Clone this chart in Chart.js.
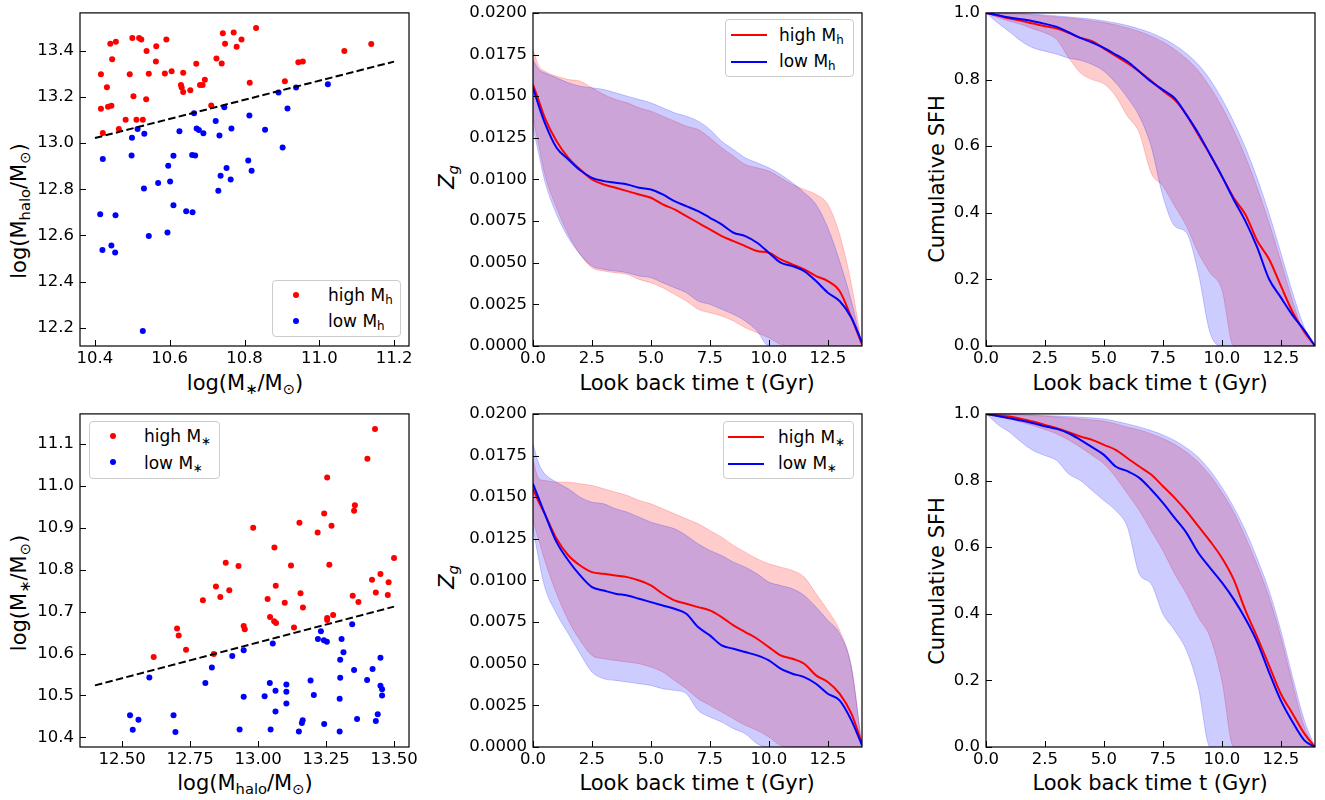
<!DOCTYPE html>
<html>
<head>
<meta charset="utf-8">
<script src="https://cdn.jsdelivr.net/npm/chart.js@4.4.1/dist/chart.umd.min.js"></script>
<style>
  html, body { margin: 0; padding: 0; background: #fff; }
  #fig { position: relative; width: 1325px; height: 800px; overflow: hidden; background: #fff;
         font-family: "DejaVu Sans", sans-serif; color: #000; }
  canvas { position: absolute; }
  .xt, .yt { position: absolute; white-space: nowrap; font-size: 21px; line-height: 24px; }
  .xt { transform: translateX(-50%); }
  .yt { transform: translate(-50%, -50%) rotate(-90deg); }
  sub { font-size: 0.7em; vertical-align: -0.25em; line-height: 0; }
  .leg { position: absolute; border: 1px solid #cccccc; border-radius: 4px;
         background: rgba(255,255,255,0.8); box-sizing: border-box; }
  .leg .txt { position: absolute; font-size: 17px; line-height: 20px; white-space: nowrap; }
  .leg .dot { position: absolute; width: 6px; height: 6px; border-radius: 50%; }
  .leg .ln { position: absolute; height: 2px; width: 36px; }
</style>
</head>
<body>
<div id="fig">
  <div class="xt" style="left:245px;top:371px">log(M<sub>∗</sub>/M<sub>⊙</sub>)</div>
  <div class="xt" style="left:697px;top:371px">Look back time t (Gyr)</div>
  <div class="xt" style="left:1150px;top:371px">Look back time t (Gyr)</div>
  <div class="xt" style="left:245px;top:771px">log(M<sub>halo</sub>/M<sub>⊙</sub>)</div>
  <div class="xt" style="left:697px;top:771px">Look back time t (Gyr)</div>
  <div class="xt" style="left:1150px;top:771px">Look back time t (Gyr)</div>

  <div class="yt" style="left:19px;top:211px">log(M<sub>halo</sub>/M<sub>⊙</sub>)</div>
  <div class="yt" style="left:19px;top:593px">log(M<sub>∗</sub>/M<sub>⊙</sub>)</div>
  <div class="yt" style="left:447px;top:177px"><i>Z<sub>g</sub></i></div>
  <div class="yt" style="left:447px;top:577px"><i>Z<sub>g</sub></i></div>
  <div class="yt" style="left:937px;top:179px">Cumulative SFH</div>
  <div class="yt" style="left:937px;top:581px">Cumulative SFH</div>

  <div class="leg" style="left:272px;top:280px;width:129px;height:57px">
    <div class="dot" style="left:20px;top:11px;background:#ff0000"></div>
    <div class="txt" style="left:55px;top:4px">high M<sub>h</sub></div>
    <div class="dot" style="left:20px;top:37px;background:#0000ff"></div>
    <div class="txt" style="left:55px;top:30px">low M<sub>h</sub></div>
  </div>
  <div class="leg" style="left:725px;top:19px;width:129px;height:58px">
    <div class="ln" style="left:5px;top:14px;background:#ff0000"></div>
    <div class="txt" style="left:53px;top:5px">high M<sub>h</sub></div>
    <div class="ln" style="left:5px;top:41px;background:#0000ff"></div>
    <div class="txt" style="left:53px;top:31px">low M<sub>h</sub></div>
  </div>
  <div class="leg" style="left:89px;top:421px;width:131px;height:58px">
    <div class="dot" style="left:20px;top:11px;background:#ff0000"></div>
    <div class="txt" style="left:54px;top:4px">high M<sub>∗</sub></div>
    <div class="dot" style="left:20px;top:37px;background:#0000ff"></div>
    <div class="txt" style="left:54px;top:31px">low M<sub>∗</sub></div>
  </div>
  <div class="leg" style="left:723px;top:421px;width:131px;height:58px">
    <div class="ln" style="left:4px;top:14px;background:#ff0000"></div>
    <div class="txt" style="left:54px;top:5px">high M<sub>∗</sub></div>
    <div class="ln" style="left:4px;top:41px;background:#0000ff"></div>
    <div class="txt" style="left:54px;top:31px">low M<sub>∗</sub></div>
  </div>
</div>
<script>
// top-left: halo mass vs stellar mass
const tlHighX = [10.416,10.421,10.416,10.432,10.435,10.444,10.441,10.446,10.456,10.464,10.482,10.493,10.500,10.503,10.511,10.518,10.524,10.528,10.538,10.537,10.544,10.563,10.564,10.587,10.591,10.605,10.630,10.632,10.636,10.636,10.655,10.671,10.681,10.688,10.694,10.711,10.725,10.739,10.742,10.748,10.771,10.779,10.792,10.814,10.831,10.908,10.944,10.956,11.067,11.139];
const tlHighY = [13.298,13.044,13.149,13.242,13.157,13.162,13.430,13.363,13.439,13.061,13.101,13.298,13.455,13.203,13.101,13.455,13.449,13.101,13.399,13.190,13.300,13.353,13.420,13.301,13.449,13.311,13.252,13.241,13.221,13.305,13.229,13.344,13.252,13.252,13.274,13.163,13.367,13.345,13.476,13.430,13.479,13.417,13.449,13.261,13.499,13.268,13.350,13.353,13.399,13.429];
const tlLowX = [10.421,10.414,10.420,10.444,10.454,10.455,10.499,10.498,10.514,10.532,10.531,10.544,10.569,10.594,10.596,10.601,10.610,10.610,10.528,10.626,10.644,10.660,10.661,10.668,10.665,10.672,10.678,10.690,10.723,10.730,10.733,10.736,10.746,10.752,10.763,10.765,10.810,10.813,10.819,10.855,10.891,10.902,10.915,10.938,11.023];
const tlLowY = [12.931,12.692,12.537,12.556,12.526,12.687,13.023,12.946,13.061,13.040,12.803,12.598,12.827,12.613,12.902,12.834,12.945,12.731,12.186,13.051,12.705,12.948,12.700,12.946,13.129,13.063,13.057,13.043,13.096,12.794,13.033,12.859,13.155,12.892,12.842,13.063,12.925,13.120,12.880,13.058,13.219,12.981,13.150,13.241,13.255];
const tlLineX = [10.4, 11.2];
const tlLineY = [13.022, 13.353];

// bottom-left: stellar mass vs halo mass
const blHighX = [12.616,12.702,12.708,12.735,12.797,12.837,12.845,12.861,12.881,12.894,12.928,12.947,12.951,12.982,13.035,13.044,13.059,13.060,13.065,13.066,13.098,13.121,13.132,13.152,13.156,13.165,13.219,13.243,13.254,13.254,13.254,13.262,13.270,13.276,13.348,13.353,13.356,13.369,13.402,13.419,13.430,13.433,13.450,13.477,13.480,13.500];
const blHighY = [10.592,10.660,10.643,10.609,10.727,10.599,10.760,10.735,10.817,10.751,10.809,10.666,10.658,10.900,10.730,10.687,10.677,10.853,10.762,10.673,10.721,10.810,10.662,10.912,10.744,10.710,10.889,10.934,11.020,10.685,10.680,10.812,10.905,10.692,10.738,10.941,10.954,10.723,11.065,10.776,11.136,10.746,10.790,10.740,10.770,10.828];
const blLowX = [12.529,12.539,12.560,12.600,12.689,12.696,12.806,12.830,12.905,12.932,12.947,12.947,13.024,13.043,13.046,13.054,13.064,13.064,13.104,13.104,13.104,13.150,13.161,13.164,13.193,13.205,13.220,13.231,13.242,13.243,13.253,13.300,13.302,13.302,13.307,13.314,13.346,13.353,13.364,13.401,13.421,13.433,13.440,13.450,13.450,13.456,13.456,13.300];
const blLowY = [10.453,10.418,10.442,10.543,10.453,10.413,10.530,10.567,10.594,10.419,10.608,10.497,10.498,10.530,10.419,10.624,10.511,10.462,10.526,10.509,10.481,10.414,10.434,10.441,10.536,10.501,10.635,10.653,10.632,10.432,10.628,10.492,10.542,10.585,10.635,10.603,10.670,10.561,10.444,10.537,10.563,10.439,10.455,10.590,10.523,10.515,10.500,10.414];
const blLineX = [12.4, 13.5];
const blLineY = [10.524, 10.712];

// look back time grid (Gyr), shared by the four right-hand panels
const T = [0,0.25,0.5,1,1.5,2,2.5,3,3.5,4,4.5,5,5.5,6,6.5,7,7.5,8,8.5,9,9.5,10,10.5,11,11.5,12,12.5,13,13.5,13.95];

// gas metallicity, split by halo mass (median, upper and lower envelope)
const zHighMh   = [0.0157,0.0147,0.0137,0.0123,0.0113,0.0106,0.0100,0.0097,0.0095,0.0093,0.0091,0.0089,0.0085,0.0082,0.0078,0.0074,0.0070,0.0066,0.0063,0.0060,0.0057,0.0056,0.0052,0.0049,0.0046,0.0042,0.0039,0.0033,0.0017,0.0001];
const zLowMh    = [0.0155,0.0144,0.0134,0.0119,0.0112,0.01055,0.0101,0.0099,0.0098,0.0097,0.0095,0.0094,0.0091,0.0087,0.0084,0.0081,0.0077,0.0073,0.0068,0.0066,0.0062,0.0056,0.0050,0.0048,0.0045,0.0039,0.0032,0.0027,0.0017,0.0002];
const zHighMhUp = [0.0178,0.0168,0.0165,0.0162,0.0160,0.0159,0.0155,0.0151,0.0148,0.0146,0.0143,0.0141,0.0138,0.0135,0.0132,0.0130,0.0125,0.0119,0.0114,0.0109,0.0107,0.0105,0.0101,0.0097,0.0094,0.0091,0.0085,0.0067,0.0037,0];
const zHighMhLo = [0.0137,0.0120,0.0103,0.0083,0.0067,0.0055,0.0047,0.0045,0.0044,0.0043,0.0040,0.0038,0.0035,0.0031,0.0027,0.0022,0.0020,0.0018,0.0015,0.0011,0.0008,0.0005,0.0001,0,0,0,0,0,0,0];
const zLowMhUp  = [0.0172,0.0166,0.0164,0.0161,0.0158,0.0156,0.0155,0.0154,0.0152,0.0150,0.0148,0.0146,0.0143,0.0140,0.0138,0.0135,0.0130,0.0123,0.0118,0.0113,0.0110,0.0107,0.0103,0.0098,0.0092,0.0085,0.0071,0.0051,0.0027,0];
const zLowMhLo  = [0.0131,0.0115,0.0099,0.0079,0.0065,0.0055,0.0048,0.0046,0.0045,0.0044,0.0042,0.0041,0.0038,0.0035,0.0032,0.0027,0.0025,0.0022,0.0019,0.0015,0.0009,0,0,0,0,0,0,0,0,0];

// gas metallicity, split by stellar mass
const zHighMs   = [0.0155,0.0147,0.0140,0.0125,0.0115,0.0109,0.0105,0.0104,0.0103,0.0102,0.0100,0.0097,0.0092,0.0088,0.0086,0.0084,0.0082,0.0078,0.0073,0.0069,0.0065,0.0060,0.0055,0.0053,0.0050,0.0043,0.0039,0.0032,0.0020,0.0002];
const zLowMs    = [0.0158,0.0149,0.0140,0.0123,0.0112,0.0103,0.0096,0.0094,0.0092,0.0091,0.0089,0.0087,0.0085,0.0083,0.0080,0.0072,0.0067,0.0061,0.0059,0.0057,0.0055,0.0052,0.0047,0.0044,0.0042,0.0038,0.0032,0.0028,0.0016,0.0001];
const zHighMsUp = [0.0172,0.0161,0.0160,0.0159,0.0159,0.0158,0.0157,0.0155,0.0153,0.0151,0.0148,0.0146,0.0143,0.0140,0.0137,0.0134,0.0130,0.0126,0.0121,0.0117,0.0113,0.0110,0.0108,0.0106,0.0102,0.0092,0.0082,0.0070,0.0048,0];
const zHighMsLo = [0.0136,0.0124,0.0112,0.0092,0.0076,0.0064,0.0055,0.0053,0.0052,0.0051,0.0050,0.0048,0.0045,0.0040,0.0035,0.0029,0.0025,0.0021,0.0017,0.0013,0.0010,0.0006,0.0001,0,0,0,0,0,0,0];
const zLowMsUp  = [0.0182,0.0170,0.0164,0.0159,0.0155,0.0150,0.0147,0.0146,0.0143,0.0141,0.0138,0.0135,0.0133,0.0131,0.0127,0.0122,0.0118,0.0115,0.0111,0.0108,0.0104,0.0099,0.0097,0.0095,0.0091,0.0084,0.0076,0.0068,0.0048,0];
const zLowMsLo  = [0.0132,0.0112,0.0096,0.0080,0.0068,0.0056,0.0045,0.0041,0.0040,0.0039,0.0038,0.0037,0.0035,0.0034,0.0032,0.0022,0.0018,0.0015,0.0011,0.0008,0.0002,0,0,0,0,0,0,0,0,0];

// cumulative SFH, split by halo mass
const sHighMh   = [1,0.996,0.992,0.983,0.976,0.968,0.960,0.953,0.940,0.925,0.915,0.893,0.871,0.849,0.824,0.796,0.766,0.739,0.694,0.634,0.575,0.510,0.445,0.395,0.316,0.261,0.181,0.102,0.042,0];
const sLowMh    = [1,0.997,0.993,0.986,0.981,0.975,0.967,0.958,0.942,0.925,0.911,0.895,0.875,0.854,0.824,0.794,0.769,0.744,0.694,0.639,0.575,0.510,0.440,0.375,0.296,0.201,0.146,0.092,0.047,0];
const sHighMhUp = [1,1,0.999,0.998,0.996,0.994,0.991,0.988,0.985,0.981,0.976,0.971,0.964,0.955,0.944,0.930,0.913,0.890,0.862,0.826,0.777,0.718,0.648,0.568,0.475,0.370,0.255,0.135,0.035,0];
const sHighMhLo = [1,0.993,0.986,0.975,0.965,0.952,0.940,0.920,0.866,0.820,0.800,0.787,0.750,0.690,0.640,0.520,0.480,0.420,0.360,0.280,0.220,0.170,0,0,0,0,0,0,0,0];
const sLowMhUp  = [1,1,1,0.999,0.998,0.996,0.994,0.991,0.988,0.985,0.981,0.976,0.970,0.962,0.952,0.940,0.924,0.904,0.878,0.845,0.800,0.742,0.673,0.595,0.503,0.398,0.280,0.160,0.055,0];
const sLowMhLo  = [1,0.985,0.970,0.943,0.915,0.895,0.885,0.876,0.864,0.858,0.845,0.825,0.790,0.745,0.690,0.600,0.450,0.360,0.340,0.220,0.040,0,0,0,0,0,0,0,0,0];

// cumulative SFH, split by stellar mass
const sHighMs   = [1,0.998,0.996,0.992,0.985,0.977,0.967,0.957,0.945,0.932,0.922,0.907,0.892,0.867,0.842,0.818,0.783,0.748,0.708,0.663,0.618,0.568,0.503,0.410,0.330,0.245,0.160,0.100,0.040,0];
const sLowMs    = [1,0.997,0.994,0.987,0.980,0.972,0.963,0.955,0.942,0.922,0.900,0.877,0.842,0.828,0.808,0.773,0.733,0.688,0.643,0.583,0.538,0.494,0.444,0.385,0.315,0.225,0.140,0.075,0.020,0];
const sHighMsUp = [1,1,0.999,0.998,0.997,0.995,0.993,0.991,0.988,0.985,0.982,0.978,0.970,0.960,0.952,0.940,0.926,0.908,0.885,0.855,0.815,0.765,0.705,0.630,0.545,0.450,0.330,0.190,0.060,0];
const sHighMsLo = [1,0.996,0.992,0.985,0.975,0.965,0.953,0.940,0.922,0.900,0.876,0.850,0.810,0.760,0.710,0.650,0.590,0.520,0.460,0.390,0.330,0.200,0,0,0,0,0,0,0,0];
const sLowMsUp  = [1,1,1,0.999,0.998,0.997,0.995,0.994,0.992,0.990,0.988,0.985,0.978,0.970,0.961,0.950,0.937,0.920,0.898,0.870,0.830,0.780,0.720,0.650,0.565,0.470,0.350,0.210,0.080,0];
const sLowMsLo  = [1,0.985,0.968,0.945,0.915,0.890,0.875,0.860,0.820,0.800,0.770,0.740,0.710,0.660,0.520,0.490,0.400,0.350,0.290,0.180,0,0,0,0,0,0,0,0,0,0];

// tick labels
const tlXTicks = [10.4, 10.6, 10.8, 11.0, 11.2];
const tlYTicks = [12.2, 12.4, 12.6, 12.8, 13.0, 13.2, 13.4];
const blXTicks = [12.5, 12.75, 13.0, 13.25, 13.5];
const blYTicks = [10.4, 10.5, 10.6, 10.7, 10.8, 10.9, 11.0, 11.1];
const tTicks = [0, 2.5, 5, 7.5, 10, 12.5];
const zTicks = [0, 0.0025, 0.005, 0.0075, 0.01, 0.0125, 0.015, 0.0175, 0.02];
const sTicks = [0, 0.2, 0.4, 0.6, 0.8, 1.0];

const RED = "#ff0000", BLUE = "#0000ff";
const RED_FILL = "rgba(255,0,0,0.2)", BLUE_FILL = "rgba(0,0,255,0.2)";

const COL_X = [80, 533, 986];
const ROW_Y = [11, 412];
const PLOT_W = 329, PLOT_H = 335;
const ML = 75, MR = 30, MT = 14, MB = 35;

Chart.defaults.font.family = "DejaVu Sans";

const pts = (xs, ys) => xs.map((x, i) => ({ x, y: ys[i] }));

// matplotlib-style frame with inward ticks on the left and bottom
const frameTicks = {
  id: "frameTicks",
  afterDraw(chart) {
    const { ctx, chartArea: a } = chart;
    const sx = chart.scales.x, sy = chart.scales.y;
    ctx.save();
    ctx.strokeStyle = "#000";
    ctx.lineWidth = 1;
    ctx.beginPath();
    sx.ticks.forEach((t) => {
      const px = Math.round(sx.getPixelForValue(t.value)) + 0.5;
      ctx.moveTo(px, a.bottom); ctx.lineTo(px, a.bottom - 6);
    });
    sy.ticks.forEach((t) => {
      const py = Math.round(sy.getPixelForValue(t.value)) + 0.5;
      ctx.moveTo(a.left, py); ctx.lineTo(a.left + 6, py);
    });
    ctx.stroke();
    ctx.lineWidth = 1.2;
    ctx.strokeRect(a.left, a.top, a.right - a.left, a.bottom - a.top);
    ctx.restore();
  },
};

function axis(min, max, ticks, digits, isY) {
  return {
    type: "linear", min, max,
    grid: { display: false, drawTicks: false },
    border: { display: false },
    ticks: {
      color: "#000", font: { size: 16.5 }, padding: isY ? 6 : 3,
      autoSkip: false, maxRotation: 0,
      callback: (v) => Number(v).toFixed(digits),
    },
    afterBuildTicks: (s) => { s.ticks = ticks.map((v) => ({ value: v })); },
    afterFit: (s) => { if (isY) s.width = ML; else s.height = MB; },
  };
}

function makeChart(col, row, datasets, xScale, yScale) {
  const canvas = document.createElement("canvas");
  canvas.width = ML + PLOT_W + MR;
  canvas.height = MT + PLOT_H + MB;
  canvas.style.left = `${COL_X[col] - ML}px`;
  canvas.style.top = `${ROW_Y[row] - MT}px`;
  document.getElementById("fig").appendChild(canvas);
  return new Chart(canvas, {
    type: "line",
    data: { datasets },
    options: {
      responsive: false, animation: false, devicePixelRatio: 1, events: [],
      layout: { padding: { left: 0, top: MT, right: MR, bottom: 0 } },
      plugins: { legend: { display: false }, tooltip: { enabled: false } },
      scales: { x: xScale, y: yScale },
    },
    plugins: [frameTicks],
  });
}

function scatterSets(hx, hy, lx, ly, fx, fy) {
  const dots = (data, color) => ({
    data, showLine: false, pointRadius: 3, pointBorderWidth: 0,
    pointBackgroundColor: color, order: 2,
  });
  return [
    { data: pts(fx, fy), borderColor: "#000", borderWidth: 2, borderDash: [7.5, 3.3],
      pointRadius: 0, fill: false, order: 0 },
    dots(pts(hx, hy), RED),
    dots(pts(lx, ly), BLUE),
  ];
}

function bandSets(hiLine, loLine, hiUp, hiLo, loUp, loLo) {
  const line = (ys, color, order) => ({
    data: pts(T, ys), borderColor: color, borderWidth: 2, pointRadius: 0,
    fill: false, cubicInterpolationMode: "monotone", order,
  });
  const edge = (ys, color, fill, order) => ({
    data: pts(T, ys), borderColor: color, borderWidth: 1, backgroundColor: color,
    pointRadius: 0, fill, cubicInterpolationMode: "monotone", order,
  });
  return [
    line(hiLine, RED, 1),
    line(loLine, BLUE, 0),
    edge(hiUp, RED_FILL, "+1", 3),
    edge(hiLo, RED_FILL, false, 3),
    edge(loUp, BLUE_FILL, "+1", 2),
    edge(loLo, BLUE_FILL, false, 2),
  ];
}

makeChart(0, 0, scatterSets(tlHighX, tlHighY, tlLowX, tlLowY, tlLineX, tlLineY),
  axis(10.36, 11.24, tlXTicks, 1, false), axis(12.121, 13.564, tlYTicks, 1, true));
makeChart(0, 1, scatterSets(blHighX, blHighY, blLowX, blLowY, blLineX, blLineY),
  axis(12.345, 13.555, blXTicks, 2, false), axis(10.377, 11.172, blYTicks, 1, true));

makeChart(1, 0, bandSets(zHighMh, zLowMh, zHighMhUp, zHighMhLo, zLowMhUp, zLowMhLo),
  axis(0, 13.95, tTicks, 1, false), axis(0, 0.02, zTicks, 4, true));
makeChart(1, 1, bandSets(zHighMs, zLowMs, zHighMsUp, zHighMsLo, zLowMsUp, zLowMsLo),
  axis(0, 13.95, tTicks, 1, false), axis(0, 0.02, zTicks, 4, true));

makeChart(2, 0, bandSets(sHighMh, sLowMh, sHighMhUp, sHighMhLo, sLowMhUp, sLowMhLo),
  axis(0, 13.95, tTicks, 1, false), axis(0, 1, sTicks, 1, true));
makeChart(2, 1, bandSets(sHighMs, sLowMs, sHighMsUp, sHighMsLo, sLowMsUp, sLowMsLo),
  axis(0, 13.95, tTicks, 1, false), axis(0, 1, sTicks, 1, true));
</script>
</body>
</html>
